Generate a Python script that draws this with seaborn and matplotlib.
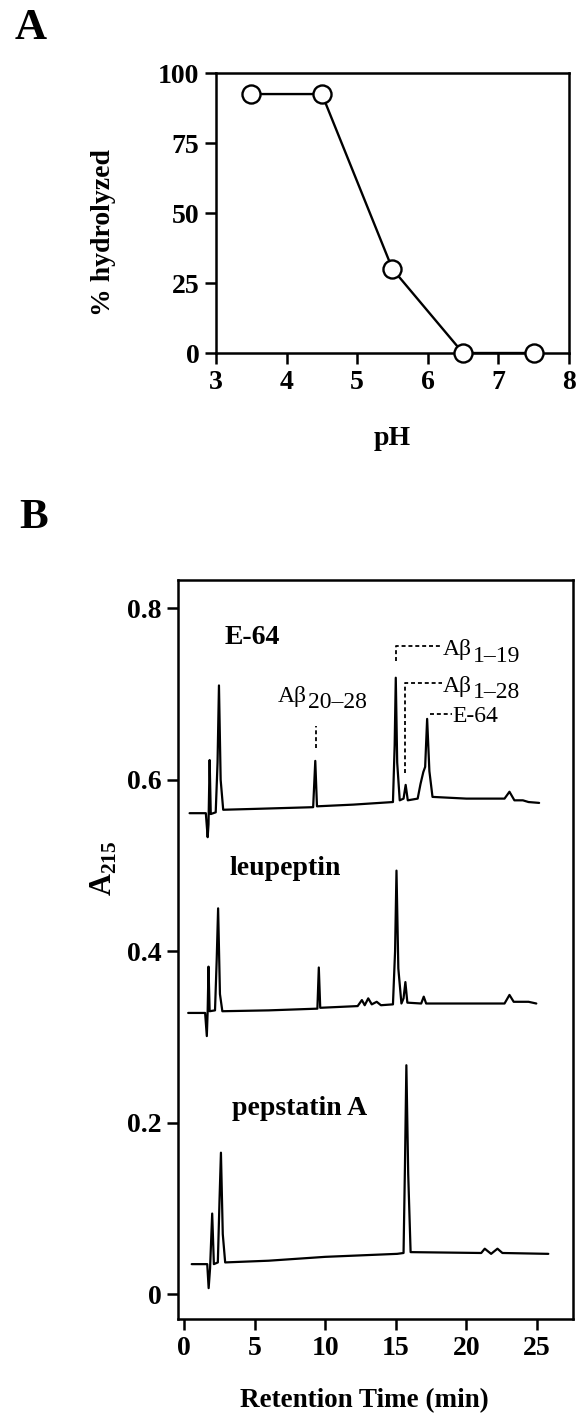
"""pH profile of hydrolysis (A) and HPLC traces with protease inhibitors (B)."""
import matplotlib
matplotlib.use("Agg")
import pandas as pd
import matplotlib.pyplot as plt
import seaborn as sns

# ---- panel A data ----
ph = [3.5, 4.5, 5.5, 6.5, 7.5]
pct_hydrolyzed = [92.5, 92.5, 30, 0, 0]

# ---- panel B data (retention time in min, A215) ----
e64_time = [0.4, 1.55, 1.68, 1.74, 1.82, 1.90, 2.25, 2.38, 2.48, 2.60, 2.78,
            5.0, 9.15, 9.30, 9.42, 12.0, 14.80, 14.92, 15.00, 15.10, 15.28,
            15.55, 15.70, 15.85, 16.55, 16.75, 16.95, 17.08, 17.22, 17.38,
            17.60, 20.0, 22.70, 23.05, 23.40, 24.0, 24.40, 25.15]
e64_abs = [0.561, 0.561, 0.533, 0.548, 0.623, 0.560, 0.562, 0.620, 0.710, 0.600, 0.565,
           0.566, 0.568, 0.622, 0.569, 0.571, 0.574, 0.640, 0.719, 0.620, 0.576,
           0.578, 0.594, 0.576, 0.578, 0.595, 0.609, 0.615, 0.671, 0.610,
           0.580, 0.578, 0.578, 0.586, 0.576, 0.576, 0.574, 0.573]

leu_time = [0.3, 1.50, 1.62, 1.68, 1.74, 1.82, 2.20, 2.32, 2.42, 2.55, 2.72,
            6.0, 9.45, 9.55, 9.65, 12.3, 12.60, 12.80, 13.05, 13.30, 13.65,
            13.95, 14.80, 14.95, 15.05, 15.18, 15.40, 15.55, 15.68, 15.82,
            16.80, 16.98, 17.15, 22.70, 23.05, 23.35, 24.40, 24.95]
leu_abs = [0.328, 0.328, 0.301, 0.330, 0.382, 0.330, 0.331, 0.390, 0.450, 0.350, 0.330,
           0.331, 0.333, 0.381, 0.334, 0.336, 0.343, 0.337, 0.345, 0.338, 0.341,
           0.337, 0.338, 0.400, 0.494, 0.380, 0.339, 0.345, 0.364, 0.340,
           0.339, 0.347, 0.339, 0.339, 0.349, 0.341, 0.341, 0.339]

pep_time = [0.55, 1.65, 1.75, 1.85, 2.00, 2.12, 2.40, 2.52, 2.62, 2.75, 2.92,
            6.0, 10.0, 15.10, 15.55, 15.65, 15.75, 15.88, 16.05, 21.05, 21.30,
            21.75, 22.20, 22.55, 25.80]
pep_abs = [0.035, 0.035, 0.007, 0.030, 0.094, 0.035, 0.037, 0.110, 0.165, 0.070, 0.037,
           0.039, 0.0435, 0.047, 0.048, 0.150, 0.267, 0.140, 0.049, 0.048, 0.053,
           0.047, 0.053, 0.048, 0.047]

trace_names = ["E-64", "leupeptin", "pepstatin A"]

SERIF = ["Liberation Serif", "DejaVu Serif"]


def style_axis(ax):
    for sp in ax.spines.values():
        sp.set_linewidth(1.8)
        sp.set_color("black")
    ax.tick_params(direction="out", length=8, width=1.8, pad=4,
                   labelsize=20, colors="black")
    for lab in ax.get_xticklabels() + ax.get_yticklabels():
        lab.set_fontweight("bold")


def ab_label(ax, t, a, sub, size=17):
    """Write A-beta with a near full-size subscript."""
    txt = ax.text(t, a, "Aβ", fontsize=size, fontweight="normal",
                  ha="left", va="baseline")
    ax.annotate(sub, xy=(1, 0), xycoords=txt, xytext=(0.5, -4.5),
                textcoords="offset points", fontsize=size,
                fontweight="normal", ha="left", va="bottom")


def main():
    sns.set_theme(style="ticks")
    plt.rcParams["font.family"] = SERIF
    plt.rcParams["font.weight"] = "bold"
    plt.rcParams["text.color"] = "black"
    plt.rcParams["axes.labelcolor"] = "black"
    plt.rcParams["xtick.color"] = "black"
    plt.rcParams["ytick.color"] = "black"
    plt.rcParams["mathtext.fontset"] = "custom"
    plt.rcParams["mathtext.rm"] = "Liberation Serif"
    plt.rcParams["mathtext.bf"] = "Liberation Serif:bold"

    fig = plt.figure(figsize=(5.84, 14.16), dpi=100)

    # ---------------- panel A ----------------
    ax_a = fig.add_axes([0.370, 0.7507, 0.604, 0.1977])
    df_a = pd.DataFrame({"pH": ph, "pct": pct_hydrolyzed})
    sns.lineplot(data=df_a, x="pH", y="pct", ax=ax_a, color="black",
                 linewidth=1.7, marker="o", markersize=13,
                 markerfacecolor="white", markeredgecolor="black",
                 markeredgewidth=1.7, clip_on=False, zorder=5)
    ax_a.set_xlim(3, 8)
    ax_a.set_ylim(0, 100)
    ax_a.set_xticks([3, 4, 5, 6, 7, 8])
    ax_a.set_yticks([0, 25, 50, 75, 100])
    ax_a.set_xlabel("pH", fontsize=20, fontweight="bold")
    ax_a.set_ylabel("% hydrolyzed", fontsize=20, fontweight="bold")
    ax_a.xaxis.set_label_coords(0.50, -0.26)
    ax_a.yaxis.set_label_coords(-0.285, 0.43)
    style_axis(ax_a)
    fig.text(0.053, 0.980, "A", fontsize=32, fontweight="bold",
             ha="center", va="center")

    # ---------------- panel B ----------------
    ax_b = fig.add_axes([0.3048, 0.0685, 0.6764, 0.5219])
    traces = [(e64_time, e64_abs), (leu_time, leu_abs), (pep_time, pep_abs)]
    frames = []
    for name, (t, a) in zip(trace_names, traces):
        frames.append(pd.DataFrame({"time": t, "abs": a, "inhibitor": name}))
    df_b = pd.concat(frames, ignore_index=True)
    for name in trace_names:
        sns.lineplot(data=df_b[df_b["inhibitor"] == name], x="time", y="abs",
                     ax=ax_b, color="black", linewidth=1.6, sort=False,
                     estimator=None)
    ax_b.set_xlim(-0.42, 27.55)
    ax_b.set_ylim(-0.029, 0.833)
    ax_b.set_xticks([0, 5, 10, 15, 20, 25])
    ax_b.set_yticks([0, 0.2, 0.4, 0.6, 0.8])
    ax_b.set_yticklabels(["0", "0.2", "0.4", "0.6", "0.8"])
    ax_b.set_xlabel("Retention Time (min)", fontsize=19.5, fontweight="bold")
    ax_b.set_ylabel(r"$\mathbf{A}_{\mathbf{215}}$", fontsize=22)
    ax_b.xaxis.set_label_coords(0.471, -0.093)
    ax_b.yaxis.set_label_coords(-0.15, 0.61)
    style_axis(ax_b)
    fig.text(0.057, 0.634, "B", fontsize=31, fontweight="bold",
             ha="center", va="center")

    # trace names
    ax_b.text(2.9, 0.7588, "E-64", fontsize=20, fontweight="bold", va="baseline")
    ax_b.text(3.26, 0.4886, "leupeptin", fontsize=20, fontweight="bold", va="baseline")
    ax_b.text(3.38, 0.2087, "pepstatin A", fontsize=20, fontweight="bold", va="baseline")

    # peak annotations
    dash = dict(color="black", linewidth=1.3, linestyle=(0, (2.2, 1.6)))
    ax_b.plot([9.33, 9.33], [0.637, 0.663], **dash)
    ab_label(ax_b, 6.65, 0.691, "20–28")
    ax_b.plot([15.0, 15.0, 18.3], [0.739, 0.756, 0.756], **dash)
    ab_label(ax_b, 18.35, 0.745, "1–19")
    ax_b.plot([15.65, 15.65, 18.3], [0.608, 0.713, 0.713], **dash)
    ab_label(ax_b, 18.35, 0.7025, "1–28")
    ax_b.plot([17.42, 18.95], [0.677, 0.677], **dash)
    ax_b.text(19.0, 0.6675, "E-64", fontsize=17, fontweight="normal",
              va="baseline")

    fig.savefig("out.png", dpi=100)
    plt.close(fig)


if __name__ == "__main__":
    main()
